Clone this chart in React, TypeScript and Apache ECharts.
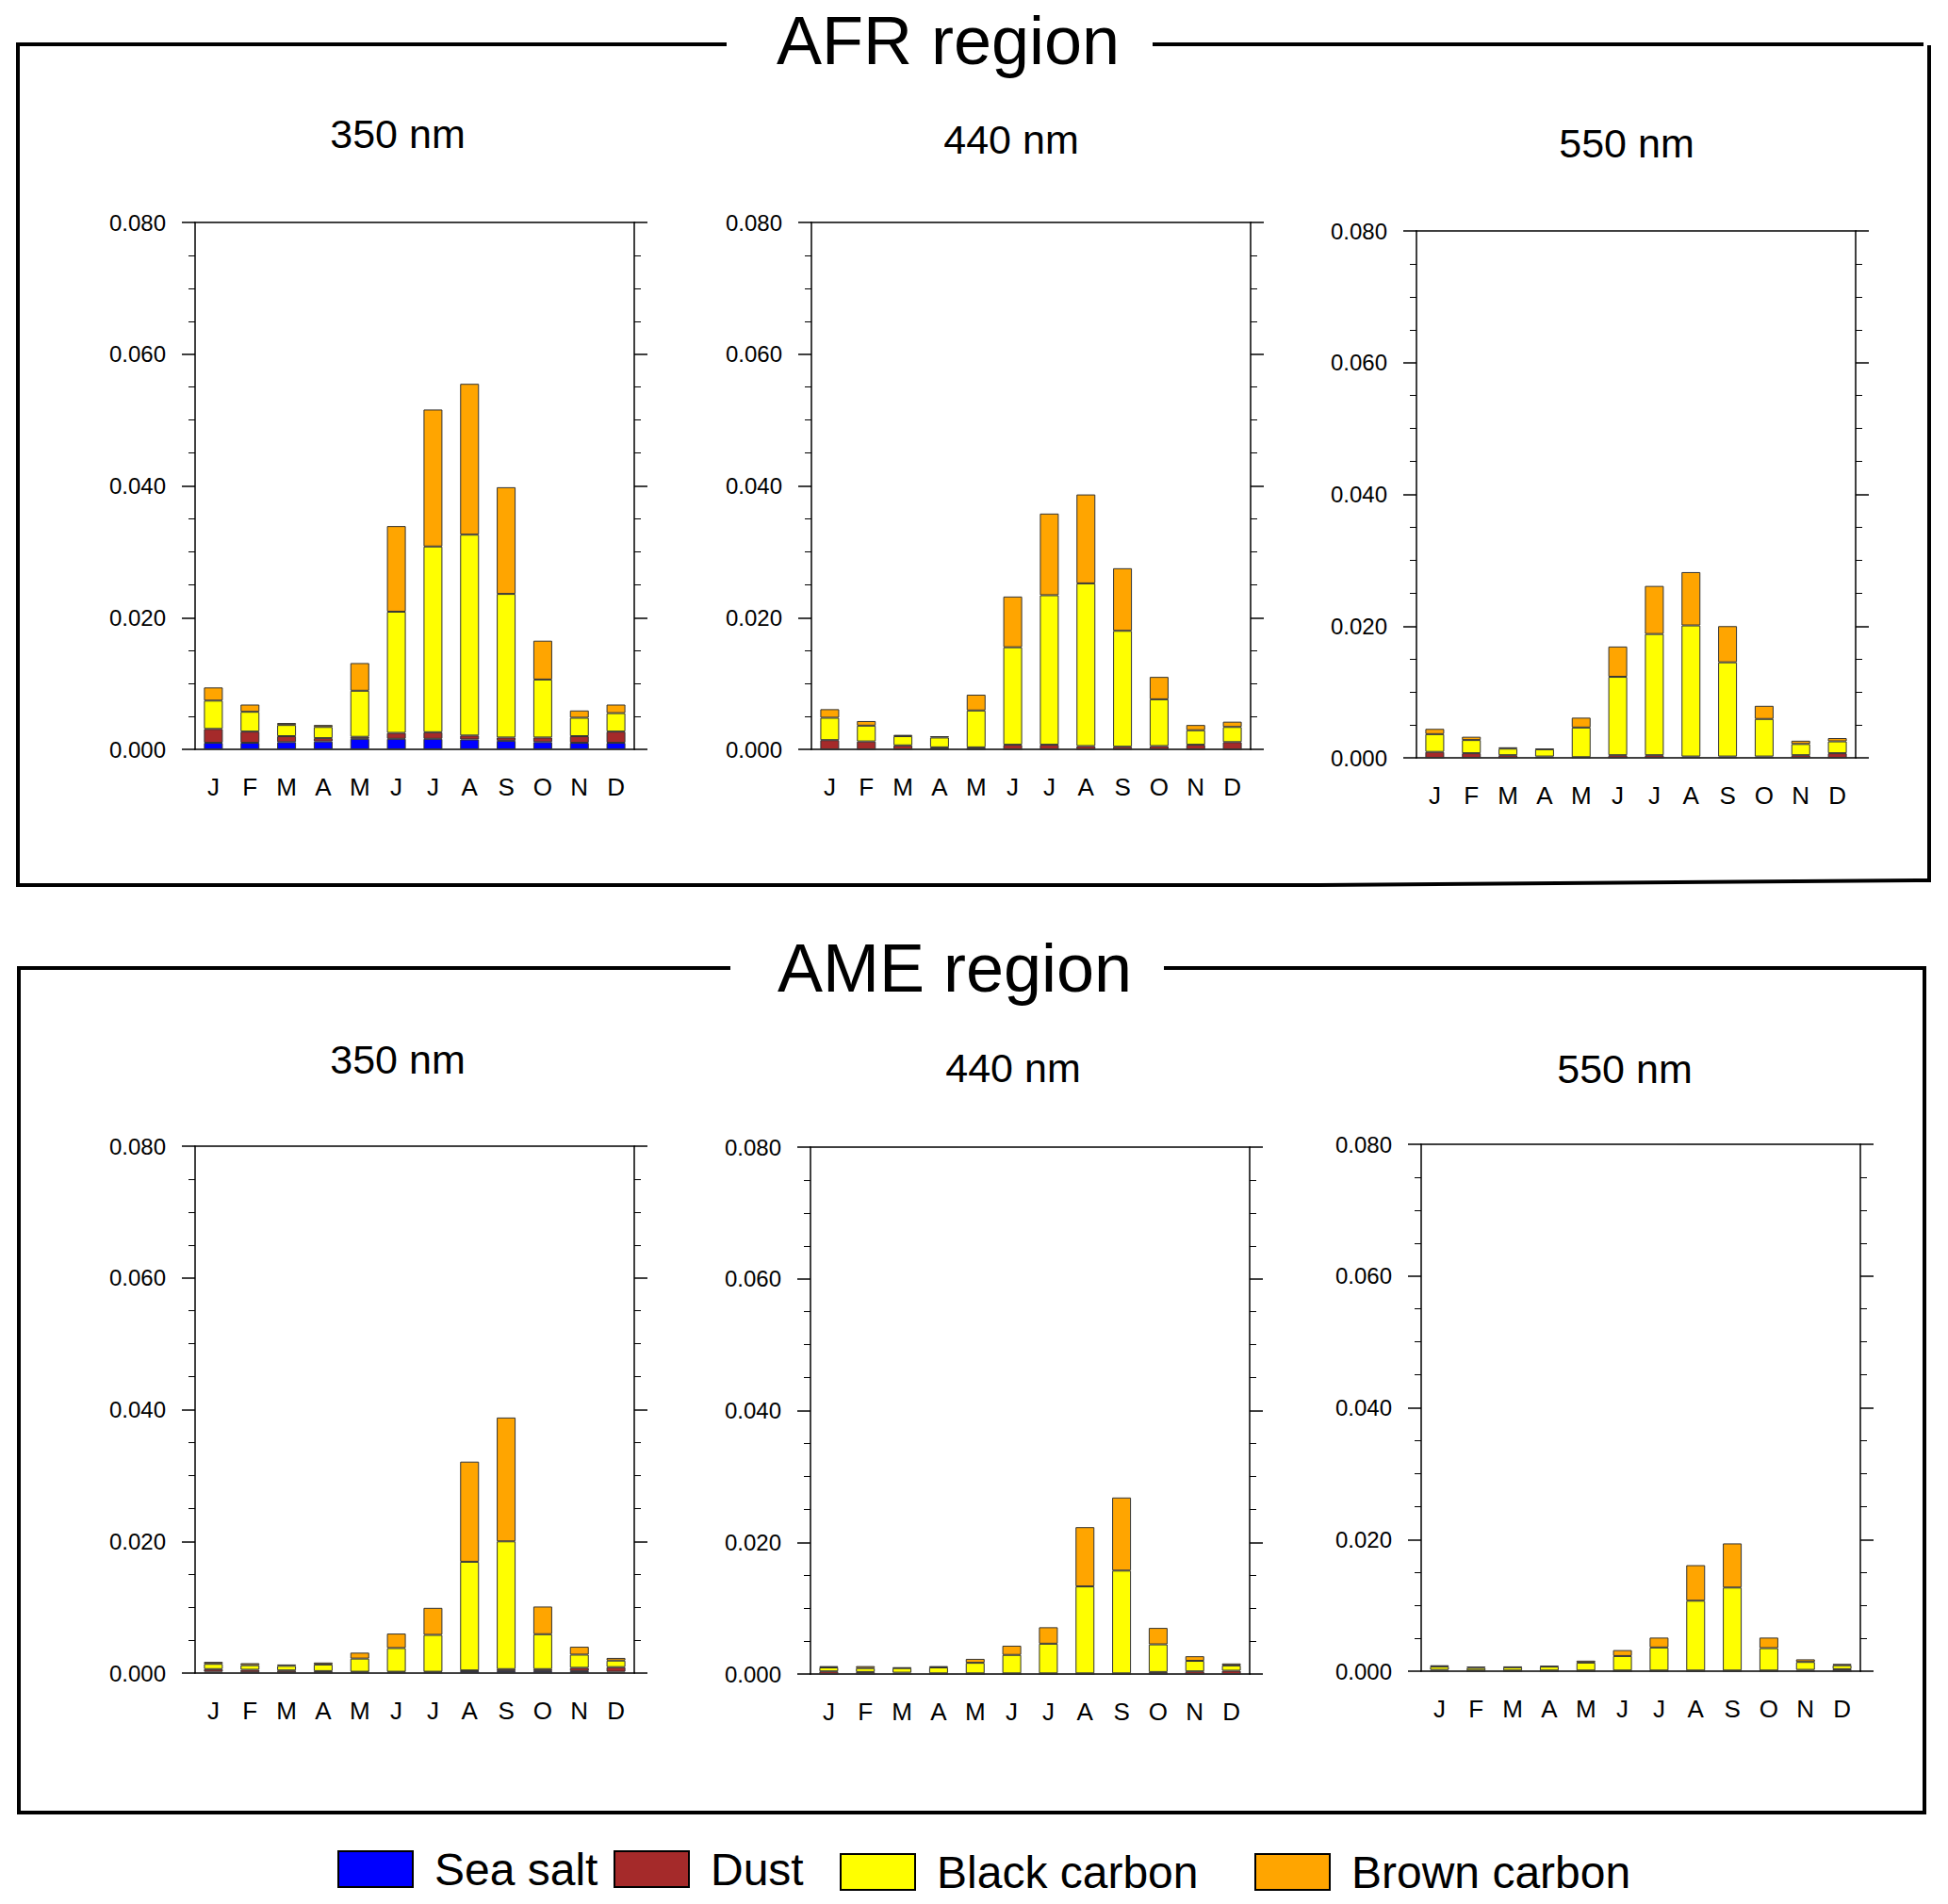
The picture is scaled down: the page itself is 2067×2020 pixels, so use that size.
import React, { useEffect, useRef } from "react";
import * as echarts from "echarts";

// months on the x axis, shown by their first letter
const months = ["Jan", "Feb", "Mar", "Apr", "May", "Jun", "Jul", "Aug", "Sep", "Oct", "Nov", "Dec"];
const monthLetters = ["J", "F", "M", "A", "M", "J", "J", "A", "S", "O", "N", "D"];

const yMin = 0;
const yMax = 0.08;
const yStep = 0.02;

const species = ["Sea salt", "Dust", "Black carbon", "Brown carbon"];
const speciesColors = ["#0000FF", "#A52A2A", "#FFFF00", "#FFA500"];

// AFR region
const afr350SeaSalt = [0.001, 0.001, 0.0011, 0.0012, 0.0016, 0.0016, 0.0016, 0.0015, 0.0013, 0.0011, 0.001, 0.001];
const afr350Dust = [0.0021, 0.0017, 0.0009, 0.0005, 0.0003, 0.0009, 0.001, 0.0006, 0.0005, 0.0007, 0.001, 0.0017];
const afr350BlackCarbon = [0.0043, 0.003, 0.0017, 0.0017, 0.007, 0.0184, 0.0282, 0.0305, 0.0218, 0.0088, 0.0028, 0.0028];
const afr350BrownCarbon = [0.002, 0.0011, 0.0003, 0.0003, 0.0042, 0.013, 0.0208, 0.0229, 0.0162, 0.0059, 0.0011, 0.0013];

const afr440SeaSalt = [0, 0, 0, 0, 0, 0, 0, 0, 0, 0, 0, 0];
const afr440Dust = [0.0014, 0.0012, 0.0006, 0.0003, 0.0003, 0.0007, 0.0007, 0.0005, 0.0004, 0.0005, 0.0007, 0.0011];
const afr440BlackCarbon = [0.0034, 0.0024, 0.0014, 0.0015, 0.0056, 0.0148, 0.0227, 0.0247, 0.0176, 0.0071, 0.0022, 0.0023];
const afr440BrownCarbon = [0.0013, 0.0007, 0.0002, 0.0002, 0.0024, 0.0077, 0.0124, 0.0135, 0.0095, 0.0034, 0.0008, 0.0008];

const afr550SeaSalt = [0, 0, 0, 0, 0, 0, 0, 0, 0, 0, 0, 0];
const afr550Dust = [0.0009, 0.0007, 0.0004, 0.0002, 0.0001, 0.0004, 0.0004, 0.0002, 0.0002, 0.0002, 0.0004, 0.0007];
const afr550BlackCarbon = [0.0027, 0.002, 0.001, 0.0011, 0.0045, 0.0119, 0.0184, 0.0199, 0.0143, 0.0057, 0.0017, 0.0018];
const afr550BrownCarbon = [0.0008, 0.0005, 0.0002, 0.0001, 0.0015, 0.0046, 0.0073, 0.0081, 0.0055, 0.002, 0.0005, 0.0005];

// AME region
const ame350SeaSalt = [0.0002, 0.0001, 0.0001, 0.0001, 0.0001, 0.0001, 0.0001, 0.0003, 0.0003, 0.0003, 0.0003, 0.0002];
const ame350Dust = [0.0004, 0.0004, 0.0003, 0.0002, 0.0001, 0.0001, 0.0001, 0.0001, 0.0003, 0.0003, 0.0005, 0.0007];
const ame350BlackCarbon = [0.0008, 0.0007, 0.0007, 0.001, 0.002, 0.0036, 0.0056, 0.0165, 0.0194, 0.0053, 0.002, 0.001];
const ame350BrownCarbon = [0.0003, 0.0003, 0.0002, 0.0003, 0.0009, 0.0022, 0.0041, 0.0152, 0.0188, 0.0042, 0.0012, 0.0004];

const ame440SeaSalt = [0, 0, 0, 0, 0, 0, 0, 0, 0, 0, 0, 0];
const ame440Dust = [0.0004, 0.0003, 0.0002, 0.0001, 0.0001, 0.0001, 0.0001, 0.0001, 0.0001, 0.0003, 0.0004, 0.0005];
const ame440BlackCarbon = [0.0006, 0.0006, 0.0007, 0.0009, 0.0016, 0.0028, 0.0045, 0.0132, 0.0156, 0.0042, 0.0016, 0.0008];
const ame440BrownCarbon = [0.0002, 0.0003, 0.0001, 0.0002, 0.0006, 0.0014, 0.0025, 0.009, 0.0111, 0.0025, 0.0007, 0.0003];

const ame550SeaSalt = [0, 0, 0, 0, 0, 0, 0, 0, 0, 0, 0, 0];
const ame550Dust = [0.0002, 0.0001, 0.0001, 0.0001, 0.0001, 0.0001, 0.0001, 0.0001, 0.0001, 0.0001, 0.0002, 0.0003];
const ame550BlackCarbon = [0.0005, 0.0004, 0.0005, 0.0006, 0.0012, 0.0022, 0.0035, 0.0106, 0.0126, 0.0034, 0.0012, 0.0006];
const ame550BrownCarbon = [0.0002, 0.0002, 0.0001, 0.0001, 0.0003, 0.0009, 0.0015, 0.0054, 0.0067, 0.0016, 0.0004, 0.0002];

const panels = [
  { wavelength: "350 nm", data: [afr350SeaSalt, afr350Dust, afr350BlackCarbon, afr350BrownCarbon] },
  { wavelength: "440 nm", data: [afr440SeaSalt, afr440Dust, afr440BlackCarbon, afr440BrownCarbon] },
  { wavelength: "550 nm", data: [afr550SeaSalt, afr550Dust, afr550BlackCarbon, afr550BrownCarbon] },
  { wavelength: "350 nm", data: [ame350SeaSalt, ame350Dust, ame350BlackCarbon, ame350BrownCarbon] },
  { wavelength: "440 nm", data: [ame440SeaSalt, ame440Dust, ame440BlackCarbon, ame440BrownCarbon] },
  { wavelength: "550 nm", data: [ame550SeaSalt, ame550Dust, ame550BlackCarbon, ame550BrownCarbon] },
];

// where each panel sits on the page (px)
const layout = [
  { left: 207, top: 236, subX: 422, subY: 142 },
  { left: 861, top: 236, subX: 1073, subY: 148 },
  { left: 1503, top: 245, subX: 1726, subY: 152 },
  { left: 207, top: 1216, subX: 422, subY: 1124 },
  { left: 860, top: 1217, subX: 1075, subY: 1133 },
  { left: 1508, top: 1214, subX: 1724, subY: 1134 },
];

const FONT = "'Liberation Sans', Arial, Helvetica, sans-serif";
const PLOT_W = 466;
const PLOT_H = 559;

const axisLine = { show: true, onZero: false, lineStyle: { color: "#000", width: 1.5 } };
const tickLine = { color: "#000", width: 1.5 };

const App: React.FC = () => {
  const chartRef = useRef<HTMLDivElement>(null);

  useEffect(() => {
    if (!chartRef.current) return;
    document.body.style.margin = "0";
    const myChart = echarts.init(chartRef.current, undefined, { renderer: "svg" });

    const grid: any[] = [];
    const xAxis: any[] = [];
    const yAxis: any[] = [];
    const series: any[] = [];
    const graphic: any[] = [];

    panels.forEach((p, i) => {
      const pos = layout[i];
      grid.push({ left: pos.left, top: pos.top, width: PLOT_W, height: PLOT_H });

      xAxis.push({
        type: "category",
        gridIndex: i,
        data: months,
        position: "bottom",
        axisLine,
        axisTick: { alignWithLabel: true, length: 13, lineStyle: tickLine },
        axisLabel: {
          interval: 0,
          formatter: (_v: string, idx: number) => monthLetters[idx],
          fontSize: 26,
          fontFamily: FONT,
          color: "#000",
          margin: 27,
        },
      });
      xAxis.push({
        type: "category",
        gridIndex: i,
        data: months,
        position: "top",
        axisLine,
        axisTick: { alignWithLabel: true, length: 13, lineStyle: tickLine },
        axisLabel: { show: false },
      });

      const yBase = {
        type: "value",
        gridIndex: i,
        min: yMin,
        max: yMax,
        interval: yStep,
        axisLine,
        axisTick: { show: true, length: 14, lineStyle: tickLine },
        minorTick: { show: true, splitNumber: 4, length: 7, lineStyle: { color: "#000", width: 1 } },
        splitLine: { show: false },
        minorSplitLine: { show: false },
      };
      yAxis.push({
        ...yBase,
        position: "left",
        axisLabel: {
          formatter: (v: number) => v.toFixed(3),
          fontSize: 24,
          fontFamily: FONT,
          color: "#000",
          margin: 31,
        },
      });
      yAxis.push({ ...yBase, position: "right", axisLabel: { show: false } });

      species.forEach((name, s) => {
        series.push({
          name,
          type: "bar",
          stack: `panel${i}`,
          xAxisIndex: i * 2,
          yAxisIndex: i * 2,
          barWidth: 20,
          data: p.data[s],
          itemStyle: { color: speciesColors[s], borderColor: "#333", borderWidth: 1 },
        });
      });

      graphic.push({
        type: "text",
        x: pos.subX,
        y: pos.subY,
        style: {
          text: p.wavelength,
          fontSize: 43,
          fontFamily: FONT,
          fill: "#000",
          align: "center",
          verticalAlign: "middle",
        },
      });
    });

    // region frames with their titles
    const frame = { stroke: "#000", lineWidth: 4, fill: "none" };
    graphic.push(
      {
        type: "polyline",
        shape: { points: [[771, 47], [19, 47], [19, 939], [1400, 939], [2047, 934], [2047, 48]] },
        style: frame,
      },
      { type: "polyline", shape: { points: [[1223, 47], [2041, 47]] }, style: frame },
      {
        type: "text",
        x: 1006,
        y: 43,
        style: { text: "AFR region", fontSize: 72, fontFamily: FONT, fill: "#000", align: "center", verticalAlign: "middle" },
      },
      {
        type: "polyline",
        shape: { points: [[775, 1027], [20, 1027], [20, 1923], [2042, 1923], [2042, 1027], [1235, 1027]] },
        style: frame,
      },
      {
        type: "text",
        x: 1013,
        y: 1027,
        style: { text: "AME region", fontSize: 72, fontFamily: FONT, fill: "#000", align: "center", verticalAlign: "middle" },
      }
    );

    const legendLeft = [358, 651, 891, 1331];
    const legendTop = [1959, 1959, 1962, 1962];
    const legend = species.map((name, s) => ({
      data: [name],
      left: legendLeft[s],
      top: legendTop[s],
      padding: 0,
      icon: "rect",
      itemWidth: 79,
      itemHeight: 38,
      itemStyle: { borderColor: "#000", borderWidth: 2 },
      textStyle: { fontSize: 48, fontFamily: FONT, color: "#000", padding: [0, 0, 0, 18] },
      selectedMode: false,
    }));

    const option: any = {
      animation: false,
      backgroundColor: "#fff",
      grid,
      xAxis,
      yAxis,
      series,
      legend,
      graphic,
    };

    myChart.setOption(option);

    return () => {
      myChart.dispose();
    };
  }, []);

  return <div ref={chartRef} style={{ width: "2067px", height: "2020px" }} />;
};

export default App;
